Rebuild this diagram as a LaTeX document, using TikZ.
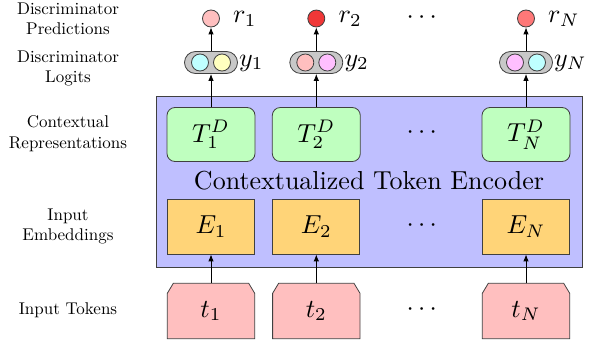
\documentclass[tikz,border=0pt]{standalone}
\usepackage{graphicx}
\usetikzlibrary{arrows.meta,shapes.misc,backgrounds,calc}
\definecolor{encfill}{RGB}{191,191,255}
\definecolor{tgreen}{RGB}{191,255,191}
\definecolor{eorange}{RGB}{255,212,120}
\definecolor{tokpink}{RGB}{255,191,191}
\definecolor{pillgray}{RGB}{200,200,200}
\definecolor{cyanc}{RGB}{191,255,255}
\definecolor{yellowc}{RGB}{255,255,191}
\definecolor{pinkc}{RGB}{255,191,191}
\definecolor{magc}{RGB}{255,191,255}
\definecolor{rone}{RGB}{255,191,191}
\definecolor{rtwo}{RGB}{240,55,55}
\definecolor{rN}{RGB}{255,120,120}
\newcommand{\bigsc}[1]{\scalebox{2.6}{#1}}
\newcommand{\lblsc}[1]{\scalebox{1.7}{\begin{tabular}{@{}c@{}}#1\end{tabular}}}
\begin{document}
\begin{tikzpicture}[x=1pt,y=-1pt,
  border/.style={draw=black!75,line width=0.8pt},
  encbox/.style={border,fill=encfill,minimum width=426pt,minimum height=171pt,inner sep=0pt},
  tbox/.style={border,fill=tgreen,rounded corners=8pt,minimum width=88pt,minimum height=54pt,inner sep=0pt},
  ebox/.style={border,fill=eorange,minimum width=87pt,minimum height=55pt,inner sep=0pt},
  tokbox/.style={minimum width=87pt,minimum height=55pt,inner sep=0pt},
  tokshape/.style={border,fill=tokpink},
  pill/.style={border,fill=pillgray,rounded rectangle,minimum width=53pt,minimum height=22pt,inner sep=0pt},
  dot/.style={border,circle,minimum size=17pt,inner sep=0pt},
  rdot/.style={border,circle,minimum size=17pt,inner sep=0pt},
  mathlbl/.style={anchor=west,inner sep=0pt},
  dots/.style={inner sep=0pt},
  side/.style={inner sep=0pt},
  arr/.style={line width=0.9pt,-{Latex[length=7pt,width=5.5pt]}}
]
\useasboundingbox (0,0) rectangle (589,343);

% encoder
\node[encbox] (enc) at (369,181.5) {};
\node[inner sep=0pt] (enctxt) at (369,181) {\bigsc{Contextualized Token Encoder}};

% contextual representations
\node[tbox] (T1) at (211,134.5) {\bigsc{$T_1^D$}};
\node[tbox] (T2) at (316.3,134.5) {\bigsc{$T_2^D$}};
\node[tbox] (TN) at (526,134.5) {\bigsc{$T_N^D$}};
\node[dots] (dT) at (421.7,133) {\bigsc{$\cdots$}};

% embeddings
\node[ebox] (E1) at (211,226.5) {\bigsc{$E_1$}};
\node[ebox] (E2) at (316.3,226.5) {\bigsc{$E_2$}};
\node[ebox] (EN) at (526,226.5) {\bigsc{$E_N$}};
\node[dots] (dE) at (421.7,226) {\bigsc{$\cdots$}};

% tokens
\node[tokbox] (t1) at (211,311) {\bigsc{$t_1$}};
\node[tokbox] (t2) at (316.3,311) {\bigsc{$t_2$}};
\node[tokbox] (tN) at (526,311) {\bigsc{$t_N$}};
\node[dots] (dt) at (421.7,310) {\bigsc{$\cdots$}};
\begin{scope}[on background layer]
\foreach \n in {t1,t2,tN}{
  \draw[tokshape] (\n.south west) -- ($(\n.north west)+(0,10)$) -- ($(\n.north west)+(6,0)$)
    -- ($(\n.north east)+(-6,0)$) -- ($(\n.north east)+(0,10)$) -- (\n.south east) -- cycle;
}
\end{scope}

% logits
\node[pill] (p1) at (211,62.5) {};
\node[dot,fill=cyanc] (c11) at (200,62.5) {};
\node[dot,fill=yellowc] (c12) at (222,62.5) {};
\node[mathlbl] (y1) at (239,63) {\bigsc{$y_1$}};
\node[pill] (p2) at (316.3,62.5) {};
\node[dot,fill=pinkc] (c21) at (305.3,62.5) {};
\node[dot,fill=magc] (c22) at (327.3,62.5) {};
\node[mathlbl] (y2) at (344.3,63) {\bigsc{$y_2$}};
\node[pill] (pN) at (526,62.5) {};
\node[dot,fill=magc] (cN1) at (515,62.5) {};
\node[dot,fill=cyanc] (cN2) at (537,62.5) {};
\node[mathlbl] (yN) at (554,63) {\bigsc{$y_N$}};

% predictions
\node[rdot,fill=rone] (r1) at (211,18.5) {};
\node[mathlbl] (rl1) at (233,19) {\bigsc{$r_1$}};
\node[rdot,fill=rtwo] (r2) at (316.3,18.5) {};
\node[mathlbl] (rl2) at (338.3,19) {\bigsc{$r_2$}};
\node[rdot,fill=rN] (rNn) at (526,18.5) {};
\node[mathlbl] (rlN) at (548,19) {\bigsc{$r_N$}};
\node[dots] (dr) at (421.7,18) {\bigsc{$\cdots$}};

% arrows
\foreach \a/\b in {t1/E1,t2/E2,tN/EN,T1/p1,T2/p2,TN/pN,p1/r1,p2/r2,pN/rNn}{
  \draw[arr] (\a.north) -- (\b.south);
}

% side labels
\node[side] (L1) at (68,20.5) {\lblsc{Discriminator\\Predictions}};
\node[side] (L2) at (68,68.5) {\lblsc{Discriminator\\Logits}};
\node[side] (L3) at (68,134) {\lblsc{Contextual\\Representations}};
\node[side] (L4) at (68,226.5) {\lblsc{Input\\Embeddings}};
\node[side] (L5) at (68,310) {\lblsc{Input Tokens}};
\end{tikzpicture}
\end{document}
